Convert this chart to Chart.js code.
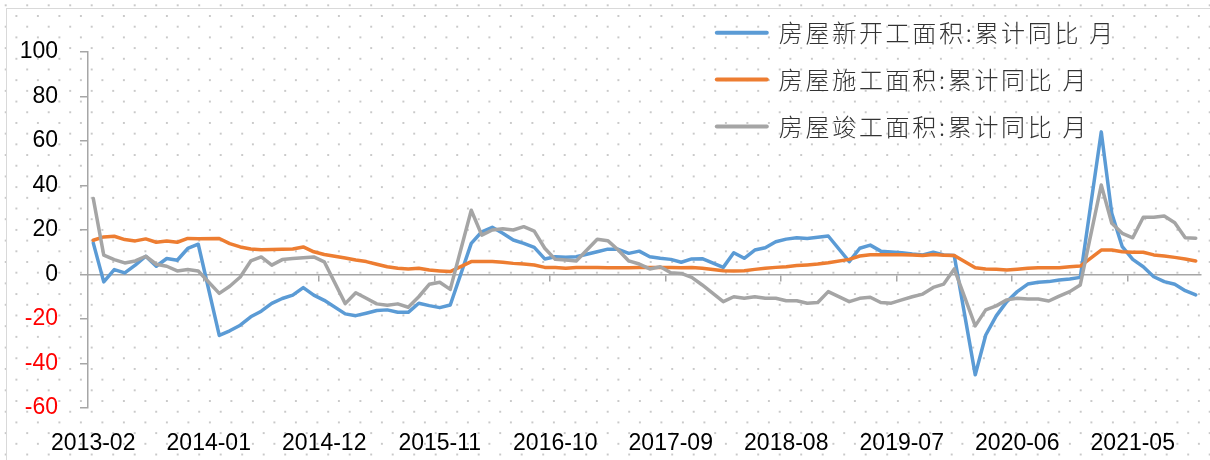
<!DOCTYPE html>
<html>
<head>
<meta charset="utf-8">
<script src="https://cdn.jsdelivr.net/npm/chart.js@4.4.1/dist/chart.umd.min.js"></script>
<style>
  html, body { margin: 0; padding: 0; background: #ffffff; }
  #wrap {
    position: relative; width: 1210px; height: 460px; overflow: hidden;
    background-color: #ffffff;
    background-image:
      radial-gradient(circle, #c9c9c9 0.9px, rgba(201,201,201,0) 1.5px),
      radial-gradient(circle, #c9c9c9 0.9px, rgba(201,201,201,0) 1.5px);
    background-size: 21.5px 21.4px, 21.5px 21.4px;
    background-position: -5.05px -5.4px, 5.65px 5.3px;
  }
  #frame {
    position: absolute; left: 6px; top: 8px; width: 1300px; height: 600px;
    border: 1px solid #d9d9d9; box-sizing: border-box;
  }
  canvas { position: absolute; left: 0; top: 0; }
</style>
</head>
<body>
<div id="wrap">
  <div id="frame"></div>
  <canvas id="c" width="1210" height="460"></canvas>
</div>
<script>
// ---- data (cumulative YoY, %) ----
const MONTHS = [
  '2013-02','2013-03','2013-04','2013-05','2013-06','2013-07','2013-08','2013-09','2013-10','2013-11','2013-12',
  '2014-01','2014-02','2014-03','2014-04','2014-05','2014-06','2014-07','2014-08','2014-09','2014-10','2014-11','2014-12',
  '2015-01','2015-02','2015-03','2015-04','2015-05','2015-06','2015-07','2015-08','2015-09','2015-10','2015-11','2015-12',
  '2016-01','2016-02','2016-03','2016-04','2016-05','2016-06','2016-07','2016-08','2016-09','2016-10','2016-11','2016-12',
  '2017-01','2017-02','2017-03','2017-04','2017-05','2017-06','2017-07','2017-08','2017-09','2017-10','2017-11','2017-12',
  '2018-01','2018-02','2018-03','2018-04','2018-05','2018-06','2018-07','2018-08','2018-09','2018-10','2018-11','2018-12',
  '2019-01','2019-02','2019-03','2019-04','2019-05','2019-06','2019-07','2019-08','2019-09','2019-10','2019-11','2019-12',
  '2020-01','2020-02','2020-03','2020-04','2020-05','2020-06','2020-07','2020-08','2020-09','2020-10','2020-11','2020-12',
  '2021-01','2021-02','2021-03','2021-04','2021-05','2021-06','2021-07','2021-08','2021-09','2021-10','2021-11'
];

const SERIES_NAMES = ['房屋新开工面积:累计同比 月', '房屋施工面积:累计同比 月', '房屋竣工面积:累计同比 月'];

// 房屋新开工面积:累计同比
const NEW_STARTS = [
  14.2, -3.3, 2.2, 0.7, 4.2, 8.2, 3.7, 7.2, 6.4, 11.7, 13.6,
  null, -27.4, -25.3, -22.8, -19.0, -16.5, -13.0, -10.8, -9.3, -5.9, -9.3, -11.6,
  null, -17.7, -18.5, -17.4, -16.2, -15.9, -17.0, -17.0, -12.9, -14.0, -14.9, -13.7,
  null, 14.0, 19.2, 21.2, 18.5, 15.5, 14.0, 12.2, 7.0, 8.0, 7.7, 8.0,
  null, 10.2, 11.4, 11.3, 9.5, 10.5, 8.0, 7.3, 6.8, 5.5, 7.0, 7.1,
  null, 3.2, 9.8, 7.3, 11.0, 12.0, 14.7, 15.9, 16.5, 16.2, 16.7, 17.3,
  null, 5.8, 11.8, 13.2, 10.5, 10.1, 9.8, 9.2, 8.8, 10.0, 8.8, 8.5,
  null, -45.1, -27.2, -18.6, -12.2, -7.7, -4.3, -3.5, -3.2, -2.5, -2.0, -1.3,
  null, 64.1, 27.5, 12.5, 6.8, 3.5, -1.0, -3.2, -4.4, -7.3, -9.2
];

// 房屋施工面积:累计同比
const UNDER_CONSTRUCTION = [
  15.4, 16.9, 17.2, 15.7, 15.1, 16.0, 14.5, 15.1, 14.5, 16.2, 16.1,
  null, 16.2, 13.9, 12.4, 11.5, 11.1, 11.2, 11.4, 11.5, 12.4, 10.2, 9.0,
  null, 7.4, 6.5, 5.8, 4.6, 3.5, 2.8, 2.5, 2.8, 2.0, 1.6, 1.3,
  null, 5.8, 5.8, 5.8, 5.5, 5.0, 4.7, 4.3, 3.2, 3.1, 2.8, 3.1,
  null, 3.1, 3.0, 3.0, 3.0, 3.2, 3.2, 3.2, 3.1, 3.0, 3.1, 2.8,
  null, 1.7, 1.6, 1.7, 2.3, 2.8, 3.2, 3.5, 4.0, 4.3, 4.7, 5.3,
  null, 6.8, 8.3, 8.9, 8.9, 8.9, 8.9, 8.8, 8.5, 9.0, 8.7, 8.5,
  null, 3.0, 2.5, 2.4, 2.0, 2.4, 2.8, 3.0, 3.0, 3.0, 3.5, 3.8,
  null, 11.0, 11.0, 10.2, 10.0, 10.0, 8.8, 8.3, 7.7, 7.0, 6.1
];

// 房屋竣工面积:累计同比
const COMPLETED = [
  34.2, 8.7, 6.7, 5.2, 6.1, 8.2, 4.6, 3.7, 1.6, 2.2, 1.6,
  null, -8.5, -5.3, -1.1, 6.1, 7.9, 4.2, 6.7, 7.2, 7.5, 7.9, 5.7,
  null, -13.1, -8.2, -10.7, -13.2, -13.8, -13.2, -14.7, -10.0, -4.4, -3.5, -6.7,
  null, 28.9, 17.7, 20.0, 20.6, 20.0, 21.5, 19.5, 11.8, 6.8, 6.5, 6.1,
  null, 15.8, 15.2, 11.0, 6.1, 4.7, 2.5, 3.5, 0.8, 0.5, -1.3, -4.7,
  null, -12.2, -10.0, -10.7, -10.0, -10.7, -10.7, -11.8, -11.8, -12.9, -12.6, -7.7,
  null, -12.2, -10.7, -10.2, -12.6, -12.9, -11.4, -10.0, -8.8, -5.8, -4.3, 2.5,
  null, -23.1, -15.9, -14.1, -11.4, -10.7, -11.0, -11.0, -11.9, -9.7, -7.7, -4.7,
  null, 40.2, 23.0, 18.5, 16.5, 25.7, 25.7, 26.3, 23.3, 16.5, 16.3
];

const Y_MIN = -60, Y_MAX = 100, Y_STEP = 20;
const LABEL_STEP = 11;   // one label every 11 months

// ---- styling ----
const COLORS = ['#5B9BD5', '#ED7D31', '#A5A5A5'];
const AXIS_GRAY = '#a6a6a6';
const TICK_FONT = { family: "'Liberation Sans', Arial, sans-serif", size: 23 };
const LEGEND_FONT = { family: "'Noto Sans CJK SC', sans-serif", size: 24, weight: 300 };

const labelIdx = [];
for (let i = 0; i < MONTHS.length; i += LABEL_STEP) labelIdx.push(i);
const boundaryIdx = labelIdx.slice(1).map(i => i - 0.5);

const toPoints = arr => arr.map((v, i) => ({ x: i, y: v }));

const legendPlacement = {
  id: 'legendPlacement',
  beforeLayout(chart, args, opts) {
    const lg = chart.legend;
    if (!lg || lg.__wrapped) return;
    lg.__wrapped = true;
    ['fit', 'draw'].forEach(name => {
      const orig = lg[name].bind(lg);
      lg[name] = function (...a) {
        const ctx = chart.ctx;
        const prev = ctx.letterSpacing;
        ctx.letterSpacing = opts.letterSpacing;
        try { return orig(...a); } finally { ctx.letterSpacing = prev; }
      };
    });
  },
  afterLayout(chart, args, opts) {
    const lg = chart.legend;
    if (!lg) return;
    lg.left = opts.x;
    lg.top = opts.y;
    lg.right = chart.width;
    lg.bottom = opts.y + lg.height + 20;
  }
};

const datasets = [NEW_STARTS, UNDER_CONSTRUCTION, COMPLETED].map((arr, k) => ({
  label: SERIES_NAMES[k],
  data: toPoints(arr),
  borderColor: COLORS[k],
  backgroundColor: COLORS[k],
  borderWidth: 3.5,
  pointRadius: 0,
  pointHoverRadius: 0,
  tension: 0,
  spanGaps: true,
  borderJoinStyle: 'round',
  borderCapStyle: 'round',
  order: 3 - k
}));

new Chart(document.getElementById('c'), {
  type: 'line',
  data: { datasets },
  plugins: [legendPlacement],
  options: {
    responsive: false,
    animation: false,
    devicePixelRatio: 1,
    layout: { padding: { left: 0, top: 52, right: 9, bottom: 0 } },
    plugins: {
      tooltip: { enabled: false },
      legendPlacement: { x: 694, y: -2, letterSpacing: '2.7px' },
      legend: {
        position: 'chartArea',
        align: 'start',
        labels: {
          usePointStyle: true,
          pointStyle: 'line',
          pointStyleWidth: 50,
          padding: 22.8,
          color: '#333333',
          font: LEGEND_FONT,
          sort: (a, b) => a.datasetIndex - b.datasetIndex,
          generateLabels: chart => Chart.defaults.plugins.legend.labels.generateLabels(chart)
            .map(it => Object.assign(it, { lineWidth: 4, lineCap: 'round', pointStyle: 'line' }))
        }
      }
    },
    scales: {
      x: {
        type: 'linear',
        position: 'bottom',
        min: -0.5,
        max: MONTHS.length - 0.5,
        afterBuildTicks: s => { s.ticks = labelIdx.map(v => ({ value: v })); },
        afterFit: s => { s.height = 52; },
        ticks: {
          autoSkip: false, maxRotation: 0, minRotation: 0,
          padding: 22, color: '#000000', font: TICK_FONT,
          callback: v => MONTHS[v]
        },
        grid: { display: false, drawTicks: false },
        border: { display: false }
      },
      x0: {
        type: 'linear',
        position: { y: 0 },
        min: -0.5,
        max: MONTHS.length - 0.5,
        afterBuildTicks: s => { s.ticks = boundaryIdx.map(v => ({ value: v })); },
        ticks: { display: false },
        grid: { drawOnChartArea: false, drawTicks: true, tickLength: 6, tickColor: AXIS_GRAY, lineWidth: 1.5 },
        border: { display: true, color: AXIS_GRAY, width: 1.5 }
      },
      y: {
        min: Y_MIN, max: Y_MAX,
        afterFit: s => { s.width = 88; },
        ticks: {
          stepSize: Y_STEP, padding: 22, font: TICK_FONT,
          color: c => (c.tick && c.tick.value < 0) ? '#FF0000' : '#000000'
        },
        grid: { drawOnChartArea: false, drawTicks: true, tickLength: 8, tickColor: AXIS_GRAY, lineWidth: 1.5 },
        border: { display: true, color: AXIS_GRAY, width: 1.5 }
      }
    }
  }
});
</script>
</body>
</html>
